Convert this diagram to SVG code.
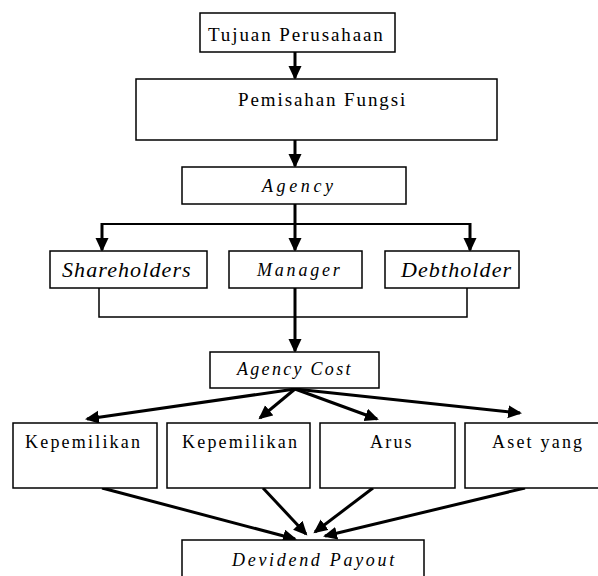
<svg xmlns="http://www.w3.org/2000/svg" width="598" height="576" viewBox="0 0 598 576">
<defs>
<style>
.box{fill:#fff;stroke:#000;stroke-width:1.5}
text{font-family:"Liberation Serif","Times New Roman","DejaVu Serif",serif;fill:#000}
.n{font-size:18px;letter-spacing:2.2px}
.i{font-style:italic}
.big{font-size:22px;letter-spacing:1.1px}
.ar{stroke:#000;stroke-width:3;fill:none;marker-end:url(#ah)}
.ln{stroke:#000;stroke-width:2;fill:none}
.th{stroke:#000;stroke-width:1.5;fill:none}
</style>
<marker id="ah" markerUnits="userSpaceOnUse" markerWidth="15" markerHeight="14" refX="12" refY="6.5" orient="auto" viewBox="0 0 15 14">
<path d="M0,0 L14,6.5 L0,13 z" fill="#000"/>
</marker>
</defs>
<rect width="598" height="576" fill="#fff"/>
<g id="connectors">
<line class="ar" x1="295" y1="52" x2="295" y2="78"/>
<line class="ar" x1="295" y1="140" x2="295" y2="166"/>
<line class="ar" x1="295" y1="204" x2="295" y2="250"/>
<polyline class="ln" points="102,224 470,224"/>
<line class="ar" x1="102" y1="223" x2="102" y2="250"/>
<line class="ar" x1="470" y1="223" x2="470" y2="250"/>
<polyline class="th" points="99,288 99,317 467,317 467,288"/>
<line class="ar" x1="295" y1="288" x2="295" y2="351"/>
<line class="ar" x1="295" y1="389" x2="87" y2="419"/>
<line class="ar" x1="295" y1="389" x2="260" y2="418"/>
<line class="ar" x1="295" y1="389" x2="377" y2="419"/>
<line class="ar" x1="295" y1="389" x2="520" y2="413"/>
<line class="ar" x1="102" y1="488" x2="295" y2="539"/>
<line class="ar" x1="263" y1="488" x2="306" y2="534"/>
<line class="ar" x1="373" y1="488" x2="315" y2="532"/>
<line class="ar" x1="525" y1="488" x2="325" y2="536"/>
</g>
<g id="tujuan">
<rect class="box" x="200" y="13" width="195" height="39"/>
<text x="208" y="41" font-size="19" letter-spacing="1.9">Tujuan Perusahaan</text>
</g>
<g id="pemisahan">
<rect class="box" x="136" y="79" width="361" height="61"/>
<text x="238" y="106" font-size="19" letter-spacing="1.9">Pemisahan Fungsi</text>
</g>
<g id="agency">
<rect class="box" x="182" y="167" width="224" height="37"/>
<text class="i n" x="262" y="192" style="letter-spacing:3.6px">Agency</text>
</g>
<g id="shareholders">
<rect class="box" x="50" y="251" width="157" height="37"/>
<text class="i big" x="62" y="277">Shareholders</text>
</g>
<g id="manager">
<rect class="box" x="229" y="251" width="133" height="37"/>
<text class="i n" x="257" y="276" style="letter-spacing:2.8px">Manager</text>
</g>
<g id="debtholder">
<rect class="box" x="385" y="251" width="134" height="37"/>
<text class="i big" x="401" y="277">Debtholder</text>
</g>
<g id="agencycost">
<rect class="box" x="210" y="352" width="169" height="36"/>
<text class="i n" x="237" y="375" style="letter-spacing:2.3px">Agency Cost</text>
</g>
<g id="kepemilikan1">
<rect class="box" x="13" y="423" width="144" height="65"/>
<text class="n" x="25" y="448">Kepemilikan</text>
</g>
<g id="kepemilikan2">
<rect class="box" x="167" y="423" width="143" height="65"/>
<text class="n" x="182" y="448">Kepemilikan</text>
</g>
<g id="arus">
<rect class="box" x="320" y="423" width="135" height="65"/>
<text class="n" x="370" y="448">Arus</text>
</g>
<g id="aset">
<rect class="box" x="465" y="423" width="140" height="65"/>
<text class="n" x="492" y="448">Aset yang</text>
</g>
<g id="devidend">
<rect class="box" x="182" y="540" width="242" height="50"/>
<text class="i n" x="232" y="566" style="letter-spacing:2.7px">Devidend Payout</text>
</g>
</svg>
